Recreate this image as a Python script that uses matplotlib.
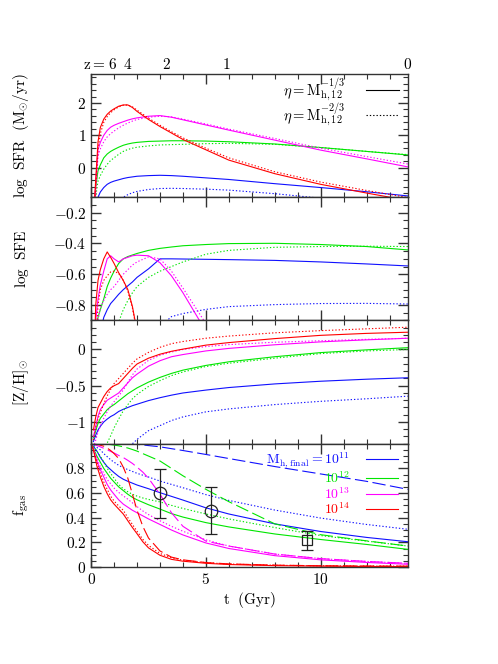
import matplotlib
matplotlib.use('Agg')
import matplotlib.pyplot as plt
from matplotlib.lines import Line2D
from matplotlib.ticker import MultipleLocator, FuncFormatter

plt.rcParams['font.family'] = 'serif'
plt.rcParams['font.serif'] = ['cmr10']
plt.rcParams['mathtext.fontset'] = 'cm'
plt.rcParams['axes.formatter.use_mathtext'] = True

# time grid (Gyr) shared by the first three panels
t_grid = [0.1, 0.2, 0.3, 0.4, 0.55, 0.7, 0.85, 1.0, 1.2, 1.4, 1.6, 1.8, 2.0,
          2.5, 3.0, 3.5, 4.0, 5.0, 6.0, 8.0, 10.0, 12.0, 13.8]

# log SFR ; _s = eta ~ M^-1/3 (solid), _d = eta ~ M^-2/3 (dotted)
sfr_11_s = [-3, -1.5, -0.92, -0.76, -0.62, -0.52, -0.46, -0.42, -0.38, -0.34, -0.31, -0.29, -0.27,
            -0.25, -0.24, -0.25, -0.27, -0.32, -0.37, -0.5, -0.62, -0.75, -0.88]
sfr_11_d = [-3, -3, -3, -3, -3, -3, -3, -3, -1.15, -0.92, -0.84, -0.78, -0.74,
            -0.68, -0.65, -0.645, -0.65, -0.67, -0.7, -0.81, -0.95, -1.1, -1.22]
sfr_12_s = [-2.0, -0.6, -0.1, 0.08, 0.3, 0.42, 0.5, 0.56, 0.63, 0.69, 0.73, 0.76, 0.78,
            0.81, 0.82, 0.83, 0.83, 0.82, 0.8, 0.73, 0.62, 0.5, 0.39]
sfr_12_d = [-2.5, -0.9, -0.42, -0.25, -0.05, 0.1, 0.22, 0.3, 0.41, 0.5, 0.56, 0.6, 0.63,
            0.67, 0.7, 0.71, 0.72, 0.74, 0.75, 0.72, 0.62, 0.5, 0.4]
sfr_13_s = [-1.8, -0.5, 0.55, 0.78, 1.0, 1.15, 1.25, 1.31, 1.37, 1.42, 1.47, 1.51, 1.54,
            1.59, 1.61, 1.56, 1.48, 1.32, 1.16, 0.85, 0.54, 0.27, 0.02]
sfr_13_d = [-2.0, -0.8, 0.35, 0.58, 0.8, 0.95, 1.05, 1.13, 1.23, 1.31, 1.38, 1.44, 1.49,
            1.56, 1.59, 1.57, 1.5, 1.35, 1.19, 0.9, 0.6, 0.34, 0.11]
sfr_14_s = [-1.6, -0.37, 0.8, 1.24, 1.5, 1.65, 1.75, 1.82, 1.9, 1.94, 1.94, 1.86, 1.74,
            1.49, 1.27, 1.07, 0.87, 0.55, 0.23, -0.19, -0.52, -0.79, -1.02]
sfr_14_d = [-1.8, -0.6, 0.55, 1.05, 1.4, 1.58, 1.7, 1.79, 1.88, 1.93, 1.94, 1.88, 1.78,
            1.53, 1.31, 1.11, 0.92, 0.6, 0.3, -0.13, -0.45, -0.71, -0.93]

# log SFE
sfe_11_s = [-1.5, -1.3, -1.1, -0.98, -0.88, -0.83, -0.79, -0.765, -0.73, -0.7, -0.675, -0.65, -0.62,
            -0.565, -0.5, -0.5, -0.501, -0.503, -0.505, -0.51, -0.52, -0.533, -0.546]
sfe_11_d = [-1.5, -1.5, -1.5, -1.5, -1.5, -1.5, -1.5, -1.5, -1.5, -1.5, -1.5, -1.5, -1.5,
            -1.5, -0.94, -0.875, -0.855, -0.828, -0.81, -0.797, -0.79, -0.789, -0.793]
sfe_12_s = [-1.4, -0.98, -0.88, -0.83, -0.76, -0.68, -0.625, -0.58, -0.53, -0.5, -0.485, -0.475, -0.465,
            -0.445, -0.432, -0.423, -0.415, -0.407, -0.401, -0.399, -0.407, -0.42, -0.442]
sfe_12_d = [-1.5, -1.5, -1.5, -1.5, -1.5, -1.5, -1.3, -1.1, -0.91, -0.83, -0.77, -0.72, -0.68,
            -0.62, -0.58, -0.55, -0.52, -0.47, -0.445, -0.425, -0.42, -0.418, -0.42]
sfe_13_s = [-1.4, -0.9, -0.76, -0.67, -0.58, -0.5, -0.48, -0.5, -0.52, -0.5, -0.49, -0.48, -0.476,
            -0.48, -0.525, -0.61, -0.72, -0.97, -1.3, -2.0, -2.5, -3, -3]
sfe_13_d = [-2.0, -1.3, -0.9, -0.82, -0.77, -0.73, -0.7, -0.68, -0.64, -0.6, -0.57, -0.54, -0.52,
            -0.487, -0.5, -0.58, -0.69, -0.92, -1.2, -1.8, -2.5, -3, -3]
sfe_14_s = [-1.3, -0.8, -0.64, -0.57, -0.5, -0.455, -0.49, -0.53, -0.59, -0.64, -0.7, -0.81, -0.97,
            -1.4, -1.8, -2.2, -2.6, -3, -3, -3, -3, -3, -3]
sfe_14_d = [-1.5, -1.05, -0.8, -0.7, -0.64, -0.61, -0.585, -0.58, -0.595, -0.64, -0.71, -0.82, -0.98,
            -1.4, -1.8, -2.2, -2.6, -3, -3, -3, -3, -3, -3]

# [Z/H]
zh_11_s = [-1.27, -1.18, -1.11, -1.06, -1.0, -0.96, -0.925, -0.9, -0.855, -0.825, -0.8, -0.775, -0.755,
           -0.705, -0.665, -0.63, -0.6, -0.56, -0.525, -0.475, -0.438, -0.41, -0.39]
zh_11_d = [-1.6, -1.6, -1.6, -1.6, -1.6, -1.6, -1.6, -1.6, -1.6, -1.6, -1.6, -1.3, -1.24,
           -1.12, -1.05, -0.98, -0.93, -0.86, -0.82, -0.76, -0.715, -0.68, -0.644]
zh_12_s = [-1.22, -1.12, -1.02, -0.95, -0.89, -0.83, -0.79, -0.76, -0.71, -0.66, -0.61, -0.57, -0.53,
           -0.45, -0.385, -0.33, -0.285, -0.22, -0.17, -0.1, -0.043, -0.005, 0.025]
zh_12_d = [-1.6, -1.55, -1.5, -1.45, -1.37, -1.29, -1.19, -1.08, -0.96, -0.845, -0.76, -0.68, -0.62,
           -0.51, -0.43, -0.36, -0.31, -0.235, -0.19, -0.12, -0.057, -0.02, 0.0]
zh_13_s = [-1.2, -1.06, -0.92, -0.83, -0.76, -0.7, -0.67, -0.64, -0.6, -0.53, -0.46, -0.39, -0.34,
           -0.23, -0.155, -0.1, -0.07, -0.02, 0.015, 0.065, 0.105, 0.133, 0.155]
zh_13_d = [-1.35, -1.25, -1.14, -1.06, -0.95, -0.86, -0.78, -0.72, -0.64, -0.56, -0.45, -0.35, -0.27,
           -0.15, -0.08, -0.035, 0.0, 0.04, 0.067, 0.1, 0.12, 0.14, 0.155]
zh_14_s = [-1.11, -0.93, -0.8, -0.74, -0.65, -0.58, -0.53, -0.5, -0.47, -0.4, -0.33, -0.26, -0.2,
           -0.12, -0.065, -0.025, 0.005, 0.06, 0.095, 0.15, 0.195, 0.222, 0.238]
zh_14_d = [-1.25, -1.08, -0.96, -0.87, -0.75, -0.64, -0.55, -0.47, -0.4, -0.33, -0.26, -0.19, -0.13,
           -0.04, 0.03, 0.08, 0.11, 0.155, 0.185, 0.23, 0.26, 0.285, 0.307]

# gas fraction ; _k = dashed
t_gas = [0, 0.1, 0.25, 0.4, 0.55, 0.7, 0.85, 1.0, 1.2, 1.4, 1.6, 1.8, 2.0, 2.25, 2.5,
         3.0, 3.5, 4.0, 5.0, 6.0, 8.0, 10.0, 12.0, 13.8]
fg_11_s = [1.0, 0.98, 0.94, 0.89, 0.85, 0.815, 0.79, 0.765, 0.735, 0.712, 0.695, 0.68, 0.665, 0.65, 0.635,
           0.603, 0.573, 0.543, 0.48, 0.43, 0.35, 0.288, 0.24, 0.205]
fg_11_d = [1.0, 0.99, 0.97, 0.95, 0.92, 0.895, 0.87, 0.85, 0.825, 0.806, 0.79, 0.775, 0.76, 0.745, 0.73,
           0.697, 0.67, 0.643, 0.587, 0.54, 0.462, 0.397, 0.345, 0.306]
fg_11_k = [1.0, 1.0, 1.0, 1.0, 1.0, 0.999, 0.999, 0.998, 0.998, 0.997, 0.997, 0.996, 0.995, 0.99, 0.985,
           0.975, 0.96, 0.945, 0.913, 0.88, 0.815, 0.755, 0.695, 0.63]
fg_12_s = [1.0, 0.96, 0.9, 0.85, 0.8, 0.76, 0.72, 0.69, 0.65, 0.62, 0.59, 0.565, 0.545, 0.525, 0.505,
           0.47, 0.433, 0.405, 0.36, 0.325, 0.268, 0.223, 0.183, 0.143]
fg_12_d = [1.0, 0.98, 0.94, 0.9, 0.85, 0.8, 0.76, 0.72, 0.67, 0.635, 0.61, 0.59, 0.575, 0.56, 0.548,
           0.528, 0.5, 0.475, 0.43, 0.39, 0.32, 0.255, 0.21, 0.17]
fg_12_k = [1.0, 1.0, 1.0, 0.999, 0.998, 0.996, 0.993, 0.989, 0.983, 0.975, 0.965, 0.953, 0.94, 0.92, 0.9,
           0.86, 0.8, 0.74, 0.63, 0.53, 0.35, 0.262, 0.212, 0.17]
fg_13_s = [1.0, 0.95, 0.86, 0.79, 0.73, 0.67, 0.625, 0.59, 0.545, 0.51, 0.485, 0.46, 0.44, 0.415, 0.39,
           0.345, 0.3, 0.26, 0.195, 0.15, 0.092, 0.058, 0.037, 0.022]
fg_13_d = [1.0, 0.96, 0.88, 0.815, 0.76, 0.71, 0.675, 0.64, 0.605, 0.577, 0.55, 0.52, 0.49, 0.455, 0.425,
           0.375, 0.33, 0.29, 0.22, 0.17, 0.105, 0.068, 0.045, 0.03]
fg_13_k = [1.0, 0.995, 0.985, 0.975, 0.963, 0.95, 0.938, 0.925, 0.905, 0.888, 0.865, 0.84, 0.81, 0.77, 0.72,
           0.59, 0.44, 0.33, 0.21, 0.17, 0.105, 0.068, 0.045, 0.03]
fg_14_s = [1.0, 0.95, 0.82, 0.73, 0.655, 0.595, 0.545, 0.51, 0.47, 0.43, 0.375, 0.32, 0.27, 0.205, 0.155,
           0.095, 0.062, 0.047, 0.03, 0.02, 0.011, 0.007, 0.004, 0.003]
fg_14_d = [1.0, 0.96, 0.85, 0.76, 0.69, 0.63, 0.575, 0.535, 0.495, 0.46, 0.4, 0.345, 0.29, 0.225, 0.175,
           0.11, 0.075, 0.055, 0.035, 0.024, 0.014, 0.01, 0.008, 0.007]
fg_14_k = [1.0, 1.0, 0.995, 0.988, 0.98, 0.965, 0.945, 0.92, 0.88, 0.81, 0.72, 0.59, 0.46, 0.33, 0.235,
           0.13, 0.08, 0.058, 0.036, 0.025, 0.015, 0.01, 0.008, 0.007]

# observed gas fractions
obs_t = [2.98, 5.23, 9.42]
obs_f = [0.597, 0.454, 0.215]
obs_lo = [0.394, 0.268, 0.138]
obs_hi = [0.795, 0.646, 0.293]
obs_mk = ['o', 'o', 's']

# redshift labels on top axis
z_labels = ['6', '4', '2', '1', '0']
z_times = [0.93, 1.6, 3.3, 5.9, 13.8]

masses = ['11', '12', '13', '14']
colors = ['#1010ff', '#00e600', '#ff00ff', '#ff0000']
dot = (0, (1.2, 1.8))
dash = (0, (12, 4))
lw = 0.8

panels = [
    (dict(zip(masses, [sfr_11_s, sfr_12_s, sfr_13_s, sfr_14_s])),
     dict(zip(masses, [sfr_11_d, sfr_12_d, sfr_13_d, sfr_14_d]))),
    (dict(zip(masses, [sfe_11_s, sfe_12_s, sfe_13_s, sfe_14_s])),
     dict(zip(masses, [sfe_11_d, sfe_12_d, sfe_13_d, sfe_14_d]))),
    (dict(zip(masses, [zh_11_s, zh_12_s, zh_13_s, zh_14_s])),
     dict(zip(masses, [zh_11_d, zh_12_d, zh_13_d, zh_14_d]))),
]
gas_s = [fg_11_s, fg_12_s, fg_13_s, fg_14_s]
gas_d = [fg_11_d, fg_12_d, fg_13_d, fg_14_d]
gas_k = [fg_11_k, fg_12_k, fg_13_k, fg_14_k]

fig, axes = plt.subplots(4, 1, figsize=(4.98, 6.64), dpi=100, sharex=True)
fig.subplots_adjust(left=0.183, right=0.819, top=0.8886, bottom=0.1461, hspace=0)

for i in range(3):
    sol, dtt = panels[i]
    for m, c in zip(masses, colors):
        axes[i].plot(t_grid, sol[m], color=c, lw=lw)
        axes[i].plot(t_grid, dtt[m], color=c, lw=lw, ls=dot)

ax4 = axes[3]
for c, s, d, k in zip(colors, gas_s, gas_d, gas_k):
    ax4.plot(t_gas, k, color=c, lw=lw, ls=dash)
    ax4.plot(t_gas, d, color=c, lw=lw, ls=dot)
    ax4.plot(t_gas, s, color=c, lw=lw)
for t, f, lo, hi, mk in zip(obs_t, obs_f, obs_lo, obs_hi, obs_mk):
    ax4.errorbar([t], [f], yerr=[[f - lo], [hi - f]], fmt=mk, mfc='none', mec='#222222',
                 ecolor='#222222', ms=9 if mk == 'o' else 7.5, mew=0.9, elinewidth=0.9,
                 capsize=4.5, capthick=0.9)

ylims = [(-0.92, 2.9), (-0.9, -0.1), (-1.3, 0.4), (0, 1.0)]
majors = [1, 0.2, 0.5, 0.2]
minors = [0.2, 0.05, 0.1, 0.05]
ylabels = [r'$\mathrm{log\ \ SFR\ \ (M_{\odot}/yr)}$', r'$\mathrm{log\ \ SFE}$',
           r'$\mathrm{[Z/H]_{\odot}}$', r'$\mathrm{f_{gas}}$']
fmt = FuncFormatter(lambda v, p: r'$%g$' % round(v, 3))
for ax, yl, mj, mn, lab in zip(axes, ylims, majors, minors, ylabels):
    ax.set_xlim(0, 13.8)
    ax.set_ylim(*yl)
    ax.xaxis.set_major_locator(MultipleLocator(5))
    ax.xaxis.set_minor_locator(MultipleLocator(1))
    ax.yaxis.set_major_locator(MultipleLocator(mj))
    ax.yaxis.set_minor_locator(MultipleLocator(mn))
    ax.yaxis.set_major_formatter(fmt)
    ax.xaxis.set_major_formatter(fmt)
    ax.tick_params(which='both', direction='in', top=True, right=True,
                   color='#333333', labelsize=11)
    ax.tick_params(which='major', length=7, width=1)
    ax.tick_params(which='minor', length=3.5, width=0.8)
    for sp in ax.spines.values():
        sp.set_color('#333333')
        sp.set_linewidth(1)
    ax.set_ylabel(lab, fontsize=11)
    ax.yaxis.set_label_coords(-0.19, 0.5)
ax4.set_yticks([0, 0.2, 0.4, 0.6, 0.8])
ax4.set_xlabel(r'$\mathrm{t\ \ (Gyr)}$', fontsize=11, labelpad=2)

# redshift labels
ax1 = axes[0]
for zt, zl in zip(z_times, z_labels):
    ax1.text(zt, 1.015, r'$%s$' % zl, transform=ax1.get_xaxis_transform(),
             ha='center', va='bottom', fontsize=11)
ax1.text(z_times[0] - 0.3, 1.015, r'$\mathrm{z}=$', transform=ax1.get_xaxis_transform(),
         ha='right', va='bottom', fontsize=11)

# legends
h1 = [Line2D([], [], color='black', lw=lw), Line2D([], [], color='black', lw=lw, ls=dot)]
ax1.legend(h1, [r'$\eta=\mathrm{M}_{\mathrm{h,12}}^{-1/3}$', r'$\eta=\mathrm{M}_{\mathrm{h,12}}^{-2/3}$'],
           loc='upper right', bbox_to_anchor=(1.0, 1.05), frameon=False, markerfirst=False,
           fontsize=10.5, handlelength=2.3, handletextpad=1.4, labelspacing=-0.12,
           borderaxespad=0.2)

h4 = [Line2D([], [], color=c, lw=lw) for c in colors]
ax4.legend(h4, [r'$\mathrm{M_{h,final}}=10^{11}$', r'$10^{12}$', r'$10^{13}$', r'$10^{14}$'],
           loc='upper right', bbox_to_anchor=(1.0, 1.02), frameon=False, markerfirst=False,
           fontsize=10, handlelength=2.3, handletextpad=1.2, labelspacing=0.0,
           borderaxespad=0.3, labelcolor='linecolor')

fig.savefig('out.png', dpi=100)
